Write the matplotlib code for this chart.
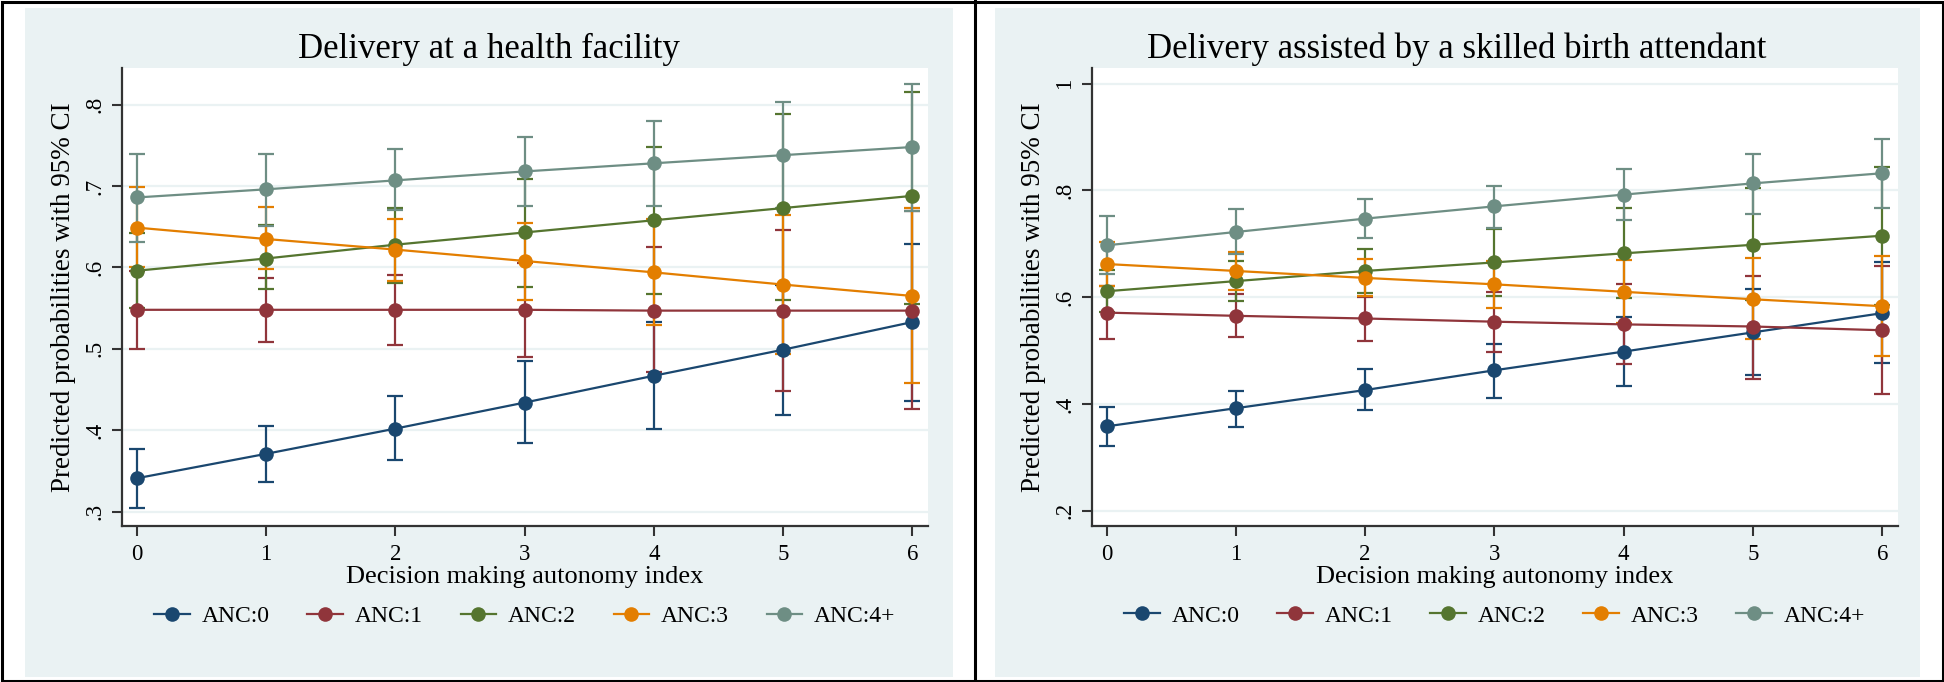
import matplotlib
matplotlib.use("Agg")
import matplotlib.pyplot as plt
from matplotlib.patches import Rectangle
from matplotlib.lines import Line2D

# ---------------- data ----------------
autonomy = [0, 1, 2, 3, 4, 5, 6]
series_labels = ["ANC:0", "ANC:1", "ANC:2", "ANC:3", "ANC:4+"]

# Panel 1: Delivery at a health facility
fac_anc0 = [0.341, 0.371, 0.402, 0.434, 0.467, 0.499, 0.533]
fac_anc0_lo = [0.305, 0.337, 0.363, 0.384, 0.402, 0.419, 0.436]
fac_anc0_hi = [0.377, 0.405, 0.442, 0.485, 0.533, 0.579, 0.629]

fac_anc1 = [0.548, 0.548, 0.548, 0.548, 0.547, 0.547, 0.547]
fac_anc1_lo = [0.500, 0.509, 0.505, 0.490, 0.471, 0.448, 0.426]
fac_anc1_hi = [0.596, 0.587, 0.591, 0.606, 0.625, 0.646, 0.669]

fac_anc2 = [0.596, 0.611, 0.628, 0.643, 0.658, 0.673, 0.688]
fac_anc2_lo = [0.550, 0.573, 0.581, 0.576, 0.568, 0.560, 0.555]
fac_anc2_hi = [0.642, 0.652, 0.673, 0.709, 0.748, 0.788, 0.815]

fac_anc3 = [0.649, 0.635, 0.622, 0.608, 0.594, 0.579, 0.565]
fac_anc3_lo = [0.600, 0.598, 0.584, 0.560, 0.529, 0.494, 0.458]
fac_anc3_hi = [0.699, 0.674, 0.659, 0.655, 0.660, 0.664, 0.673]

fac_anc4 = [0.686, 0.696, 0.707, 0.718, 0.728, 0.738, 0.748]
fac_anc4_lo = [0.631, 0.651, 0.671, 0.676, 0.676, 0.673, 0.670]
fac_anc4_hi = [0.740, 0.739, 0.745, 0.760, 0.780, 0.803, 0.826]

# Panel 2: Delivery assisted by a skilled birth attendant
sba_anc0 = [0.358, 0.392, 0.426, 0.463, 0.498, 0.534, 0.570]
sba_anc0_lo = [0.322, 0.357, 0.388, 0.412, 0.434, 0.454, 0.477]
sba_anc0_hi = [0.394, 0.425, 0.466, 0.513, 0.563, 0.615, 0.666]

sba_anc1 = [0.571, 0.565, 0.560, 0.554, 0.549, 0.545, 0.538]
sba_anc1_lo = [0.521, 0.526, 0.518, 0.498, 0.475, 0.447, 0.419]
sba_anc1_hi = [0.620, 0.605, 0.600, 0.610, 0.624, 0.640, 0.659]

sba_anc2 = [0.611, 0.630, 0.649, 0.665, 0.682, 0.698, 0.715]
sba_anc2_lo = [0.572, 0.593, 0.608, 0.603, 0.598, 0.594, 0.586]
sba_anc2_hi = [0.650, 0.667, 0.690, 0.727, 0.766, 0.804, 0.844]

sba_anc3 = [0.662, 0.649, 0.636, 0.624, 0.610, 0.596, 0.583]
sba_anc3_lo = [0.620, 0.613, 0.602, 0.579, 0.552, 0.522, 0.490]
sba_anc3_hi = [0.704, 0.684, 0.671, 0.668, 0.669, 0.673, 0.677]

sba_anc4 = [0.697, 0.722, 0.747, 0.770, 0.792, 0.813, 0.832]
sba_anc4_lo = [0.643, 0.680, 0.710, 0.730, 0.745, 0.756, 0.767]
sba_anc4_hi = [0.752, 0.765, 0.783, 0.808, 0.839, 0.868, 0.896]

fac_yticks = [0.3, 0.4, 0.5, 0.6, 0.7, 0.8]
fac_yticklabels = [".3", ".4", ".5", ".6", ".7", ".8"]
sba_yticks = [0.2, 0.4, 0.6, 0.8, 1.0]
sba_yticklabels = [".2", ".4", ".6", ".8", "1"]

titles = ["Delivery at a health facility",
          "Delivery assisted by a skilled birth attendant"]
xlabel = "Decision making autonomy index"
ylabel = "Predicted probabilities with 95% CI"

# ---------------- style ----------------
colors = ["#1A476F", "#90353B", "#55752F", "#E37E00", "#6E8E84"]
bg = "#EAF2F3"
serif = ["Liberation Serif", "DejaVu Serif"]
plt.rcParams["font.family"] = serif

W, H = 1944, 682
fig = plt.figure(figsize=(W / 100, H / 100), dpi=100)
fig.patch.set_facecolor("white")

def fx(px):
    return px / W

def fy(py):
    return 1 - py / H

# panel backgrounds
for x0, x1 in [(25, 953), (995, 1920)]:
    fig.add_artist(Rectangle((fx(x0), fy(677)), fx(x1) - fx(x0), fy(8) - fy(677),
                             transform=fig.transFigure, facecolor=bg,
                             edgecolor="none", zorder=-5))
# outer border and divider
fig.add_artist(Rectangle((fx(1.5), fy(680.5)), fx(1941), fy(1.5) - fy(680.5),
                         transform=fig.transFigure, facecolor="none",
                         edgecolor="black", linewidth=2.2, zorder=10))
fig.add_artist(Line2D([fx(975), fx(975)], [0, 1], transform=fig.transFigure,
                      color="black", linewidth=2.2, zorder=10))

panels = [
    dict(ax_px=(121.7, 68.3, 928, 526), title_x=489,
         means=[fac_anc0, fac_anc1, fac_anc2, fac_anc3, fac_anc4],
         los=[fac_anc0_lo, fac_anc1_lo, fac_anc2_lo, fac_anc3_lo, fac_anc4_lo],
         his=[fac_anc0_hi, fac_anc1_hi, fac_anc2_hi, fac_anc3_hi, fac_anc4_hi],
         ylim=(0.2824, 0.8447), yticks=fac_yticks, yticklabels=fac_yticklabels),
    dict(ax_px=(1091.7, 68.3, 1897.7, 525.7), title_x=1457,
         means=[sba_anc0, sba_anc1, sba_anc2, sba_anc3, sba_anc4],
         los=[sba_anc0_lo, sba_anc1_lo, sba_anc2_lo, sba_anc3_lo, sba_anc4_lo],
         his=[sba_anc0_hi, sba_anc1_hi, sba_anc2_hi, sba_anc3_hi, sba_anc4_hi],
         ylim=(0.172, 1.0285), yticks=sba_yticks, yticklabels=sba_yticklabels),
]

for i, p in enumerate(panels):
    x0, y0, x1, y1 = p["ax_px"]
    ax = fig.add_axes([fx(x0), fy(y1), fx(x1) - fx(x0), fy(y0) - fy(y1)])
    ax.set_facecolor("white")
    # confidence intervals first
    for m, lo, hi, c in zip(p["means"], p["los"], p["his"], colors):
        yerr = [[mm - l for mm, l in zip(m, lo)], [h - mm for mm, h in zip(m, hi)]]
        ax.errorbar(autonomy, m, yerr=yerr, fmt="none", ecolor=c,
                    elinewidth=1.6, capsize=5.5, capthick=1.6, zorder=2)
    # lines with markers
    for m, c, lab in zip(p["means"], colors, series_labels):
        ax.plot(autonomy, m, "-o", color=c, linewidth=1.6, markersize=10.5,
                markeredgewidth=0, label=lab, zorder=3)

    ax.set_xlim(-0.115, 6.12)
    ax.set_ylim(*p["ylim"])
    ax.set_xticks(autonomy)
    ax.set_xticklabels([str(v) for v in autonomy])
    ax.set_yticks(p["yticks"])
    ax.set_yticklabels(p["yticklabels"])
    for lbl in ax.get_yticklabels():
        lbl.set_rotation(90)
        lbl.set_va("center")
    ax.tick_params(axis="both", direction="out", length=7, width=1.5,
                   color="#333333", labelsize=16.5, labelcolor="black")
    ax.tick_params(axis="x", pad=6)
    ax.tick_params(axis="y", pad=5)
    for s in ["top", "right"]:
        ax.spines[s].set_visible(False)
    for s in ["left", "bottom"]:
        ax.spines[s].set_color("#333333")
        ax.spines[s].set_linewidth(1.6)
    ax.yaxis.grid(True, color=bg, linewidth=1.6)
    ax.set_axisbelow(True)

    ax.set_xlabel(xlabel, fontsize=19, labelpad=1)
    ax.set_ylabel(ylabel, fontsize=19.5, labelpad=6)
    fig.text(fx(p["title_x"]), fy(49), titles[i], fontsize=25,
             ha="center", va="center")

    leg = ax.legend(loc="center", bbox_to_anchor=(0.5, -0.197), ncol=5,
                    frameon=False, fontsize=17, handlelength=1.5,
                    handletextpad=0.5, columnspacing=1.6, borderaxespad=0)

fig.savefig("out.png", dpi=100)
